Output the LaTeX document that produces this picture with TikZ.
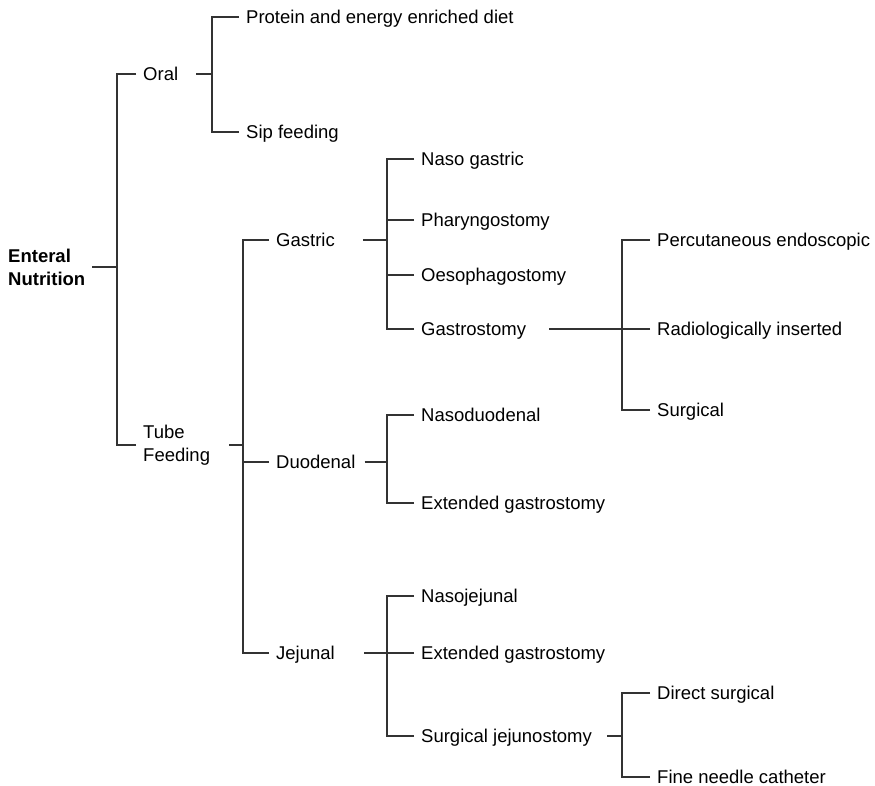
\documentclass[tikz,border=0pt]{standalone}
\usepackage{fontspec}
\setmainfont{Liberation Sans}
\begin{document}
\begin{tikzpicture}[x=1pt,y=-1pt,
    txt/.style={anchor=west,inner xsep=7pt,inner ysep=0pt,text height=13.2pt,text depth=0pt,font=\fontsize{18.5}{23}\selectfont},
    twoline/.style={anchor=west,inner xsep=7pt,inner ysep=0pt,align=left,font=\fontsize{18.5}{23}\selectfont},
    link/.style={line width=1.1pt,draw=black!80}]
        \useasboundingbox (0,0) rectangle (875,786);
        \coordinate (bA) at (117,0);
        \coordinate (bB) at (212,0);
        \coordinate (bC) at (243,0);
        \coordinate (bD) at (387,0);
        \coordinate (bE) at (622,0);
        \node[twoline,font=\fontsize{18.5}{23}\selectfont\bfseries] (en) at (1,267) {Enteral\\Nutrition};
        \node[txt] (oral) at (136,74) {Oral};
        \node[txt] (prot) at (239,17) {Protein and energy enriched diet};
        \node[txt] (sip) at (239,132) {Sip feeding};
        \node[twoline] (tube) at (136,445) {Tube\\Feeding};
        \node[txt] (gas) at (269,240) {Gastric};
        \node[txt] (naso) at (414,159) {Naso gastric};
        \node[txt] (phar) at (414,220) {Pharyngostomy};
        \node[txt] (oeso) at (414,275) {Oesophagostomy};
        \node[txt] (gstom) at (414,329) {Gastrostomy};
        \node[txt] (perc) at (650,240) {Percutaneous endoscopic};
        \node[txt] (radio) at (650,329) {Radiologically inserted};
        \node[txt] (surg) at (650,410) {Surgical};
        \node[txt] (duo) at (269,462) {Duodenal};
        \node[txt] (nduo) at (414,415) {Nasoduodenal};
        \node[txt] (extA) at (414,503) {Extended gastrostomy};
        \node[txt] (jej) at (269,653) {Jejunal};
        \node[txt] (njej) at (414,596) {Nasojejunal};
        \node[txt] (extB) at (414,653) {Extended gastrostomy};
        \node[txt] (sjej) at (414,736) {Surgical jejunostomy};
        \node[txt] (dirs) at (650,693) {Direct surgical};
        \node[txt] (fine) at (650,777) {Fine needle catheter};
        \draw[link] (en.east) -- (en -| bA);
        \draw[link] (oral.west) -| (en -| bA);
        \draw[link] (tube.west) -| (en -| bA);
        \draw[link] ([xshift=11pt]oral.east) -- (oral -| bB);
        \draw[link] (prot.west) -| (oral -| bB);
        \draw[link] (sip.west) -| (oral -| bB);
        \draw[link] ([xshift=12pt]tube.east) -- (tube -| bC);
        \draw[link] (gas.west) -| (tube -| bC);
        \draw[link] (duo.west) -| (tube -| bC);
        \draw[link] (jej.west) -| (tube -| bC);
        \draw[link] ([xshift=21pt]gas.east) -- (gas -| bD);
        \draw[link] (naso.west) -| (gas -| bD);
        \draw[link] (phar.west) -| (gas -| bD);
        \draw[link] (oeso.west) -| (gas -| bD);
        \draw[link] (gstom.west) -| (gas -| bD);
        \draw[link] ([xshift=16pt]gstom.east) -- (gstom -| bE);
        \draw[link] (perc.west) -| (gstom -| bE);
        \draw[link] (radio.west) -| (gstom -| bE);
        \draw[link] (surg.west) -| (gstom -| bE);
        \draw[link] ([xshift=2pt]duo.east) -- (duo -| bD);
        \draw[link] (nduo.west) -| (duo -| bD);
        \draw[link] (extA.west) -| (duo -| bD);
        \draw[link] ([xshift=22pt]jej.east) -- (jej -| bD);
        \draw[link] (njej.west) -| (jej -| bD);
        \draw[link] (extB.west) -| (jej -| bD);
        \draw[link] (sjej.west) -| (jej -| bD);
        \draw[link] ([xshift=8pt]sjej.east) -- (sjej -| bE);
        \draw[link] (dirs.west) -| (sjej -| bE);
        \draw[link] (fine.west) -| (sjej -| bE);
    \end{tikzpicture}
\end{document}
